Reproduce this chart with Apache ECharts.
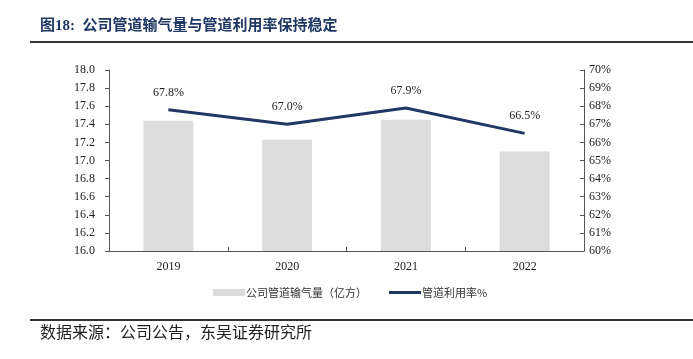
<!DOCTYPE html>
<html><head><meta charset="utf-8">
<script src="https://cdn.jsdelivr.net/npm/echarts@6/dist/echarts.min.js"></script>
<style>html,body{margin:0;padding:0;background:#fff}#c{width:693px;height:359px}</style>
</head><body><div id="c"></div>
<script>
var categories = ['2019', '2020', '2021', '2022'];
var volume = [17.44, 17.23, 17.45, 17.10];
var utilization = [67.8, 67.0, 67.9, 66.5];
var leftTicks = [16.0, 18.0, 0.2];
var rightTicks = [60, 70, 1];
var titleText = '图18:  公司管道输气量与管道利用率保持稳定';
var sourceText = '数据来源：公司公告，东吴证券研究所';

var chart = echarts.init(document.getElementById('c'));
var serif = '"Liberation Serif", "Times New Roman", serif';
var cjk = '"Noto Sans CJK SC", sans-serif';
chart.setOption({
  animation: false,
  backgroundColor: '#fff',
  graphic: [
    {type: 'text', left: 40, top: 19, style: {text: titleText, font: 'bold 15px ' + serif + ',' + cjk, fill: '#1f3864'}},
    {type: 'rect', shape: {x: 30, y: 41, width: 663, height: 2}, style: {fill: '#333'}},
    {type: 'rect', shape: {x: 30, y: 319, width: 663, height: 2}, style: {fill: '#333'}},
    {type: 'text', left: 40, top: 324, style: {text: sourceText, font: '16px ' + cjk, fill: '#222'}}
  ],
  grid: {left: 109, right: 109, top: 70, bottom: 108},
  legend: {
    left: 208, top: 282, itemGap: 22, itemWidth: 32, itemHeight: 7,
    textStyle: {fontFamily: cjk, fontSize: 11, color: '#333', padding: [0, 0, 0, -4]},
    data: [{name: '公司管道输气量（亿方）', icon: 'rect'},
           {name: '管道利用率%', icon: 'path://M0,0L32,0L32,3L0,3Z'}]
  },
  xAxis: {
    type: 'category', data: categories,
    axisLine: {lineStyle: {color: '#555'}},
    axisTick: {show: true, inside: true, length: 4, lineStyle: {color: '#555'}},
    axisLabel: {fontFamily: serif, fontSize: 12, color: '#222', margin: 10}
  },
  yAxis: [
    {type: 'value', min: leftTicks[0], max: leftTicks[1], interval: leftTicks[2],
      splitLine: {show: false},
      axisLine: {show: true, lineStyle: {color: '#555'}},
      axisTick: {show: true, length: 4, lineStyle: {color: '#555'}},
      axisLabel: {fontFamily: serif, fontSize: 12, color: '#222', margin: 14, formatter: function (v) { return v.toFixed(1); }}},
    {type: 'value', min: rightTicks[0], max: rightTicks[1], interval: rightTicks[2], position: 'right',
      splitLine: {show: false},
      axisLine: {show: true, lineStyle: {color: '#555'}},
      axisTick: {show: true, inside: true, length: 4, lineStyle: {color: '#555'}},
      axisLabel: {fontFamily: serif, fontSize: 12, color: '#222', margin: 5, formatter: '{value}%'}}
  ],
  series: [
    {name: '公司管道输气量（亿方）', type: 'bar', data: volume, yAxisIndex: 0, barWidth: '42%',
      itemStyle: {color: '#dcdcdc'}},
    {name: '管道利用率%', type: 'line', data: utilization, yAxisIndex: 1, symbol: 'circle', symbolSize: 0.1,
      showSymbol: true,
      lineStyle: {color: '#1f3864', width: 3}, itemStyle: {color: '#1f3864'},
      label: {show: true, position: 'top', distance: 11, fontFamily: serif, fontSize: 12, color: '#222',
        formatter: function (p) { return p.value.toFixed(1) + '%'; }}}
  ]
});
</script></body></html>
